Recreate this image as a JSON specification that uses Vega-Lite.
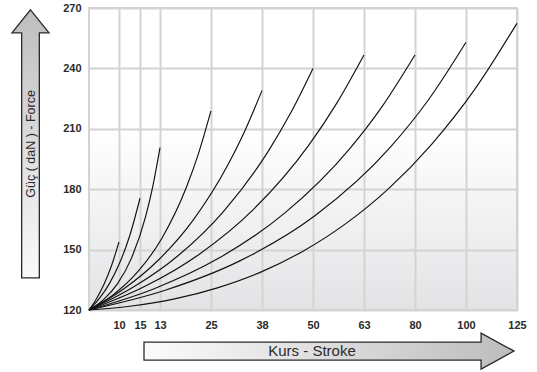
{
  "$schema": "https://vega.github.io/schema/vega-lite/v6.json",
  "width": 428,
  "height": 302,
  "autosize": "none",
  "padding": {"left": 89, "top": 8, "right": 20, "bottom": 62},
  "background": "white",
  "config": {
    "view": {"stroke": "#d3d3d3", "strokeWidth": 2},
    "font": "Liberation Sans"
  },
  "view": {
    "stroke": "#d3d3d3",
    "strokeWidth": 2,
    "fill": {
      "gradient": "linear",
      "x1": 0, "y1": 0, "x2": 0, "y2": 1,
      "stops": [
        {"offset": 0, "color": "#ffffff"},
        {"offset": 0.4, "color": "#ffffff"},
        {"offset": 1, "color": "#e2e3e5"}
      ]
    }
  },
  "datasets": {
    "curves": [
      {"curve": "10", "s": 0, "f": 120}, {"curve": "10", "s": 7.5, "f": 125.6}, {"curve": "10", "s": 15, "f": 132.8}, {"curve": "10", "s": 22.5, "f": 142.0}, {"curve": "10", "s": 30, "f": 153.8},
      {"curve": "15", "s": 0, "f": 120}, {"curve": "15", "s": 10.2, "f": 125.6}, {"curve": "15", "s": 20.4, "f": 133.1}, {"curve": "15", "s": 30.6, "f": 143.3}, {"curve": "15", "s": 40.8, "f": 157.0}, {"curve": "15", "s": 51, "f": 175.5},
      {"curve": "13", "s": 0, "f": 120}, {"curve": "13", "s": 14.2, "f": 125.0}, {"curve": "13", "s": 28.4, "f": 133.0}, {"curve": "13", "s": 42.6, "f": 145.9}, {"curve": "13", "s": 56.8, "f": 166.8}, {"curve": "13", "s": 63.9, "f": 181.7}, {"curve": "13", "s": 71, "f": 200.6},
      {"curve": "25", "s": 0, "f": 120}, {"curve": "25", "s": 24.4, "f": 127.6}, {"curve": "25", "s": 48.8, "f": 139.0}, {"curve": "25", "s": 73.2, "f": 155.9}, {"curve": "25", "s": 97.6, "f": 181.2}, {"curve": "25", "s": 109.8, "f": 198.2}, {"curve": "25", "s": 122, "f": 218.9},
      {"curve": "38", "s": 0, "f": 120}, {"curve": "38", "s": 34.6, "f": 130.4}, {"curve": "38", "s": 69.2, "f": 144.7}, {"curve": "38", "s": 103.8, "f": 164.4}, {"curve": "38", "s": 138.4, "f": 191.6}, {"curve": "38", "s": 155.7, "f": 208.8}, {"curve": "38", "s": 173, "f": 229.0},
      {"curve": "50", "s": 0, "f": 120}, {"curve": "50", "s": 44.8, "f": 131.5}, {"curve": "50", "s": 89.6, "f": 147.2}, {"curve": "50", "s": 134.4, "f": 168.9}, {"curve": "50", "s": 179.2, "f": 198.8}, {"curve": "50", "s": 201.6, "f": 217.8}, {"curve": "50", "s": 224, "f": 240.0},
      {"curve": "63", "s": 0, "f": 120}, {"curve": "63", "s": 55, "f": 131.5}, {"curve": "63", "s": 110, "f": 147.6}, {"curve": "63", "s": 165, "f": 170.2}, {"curve": "63", "s": 220, "f": 202.0}, {"curve": "63", "s": 247.5, "f": 222.5}, {"curve": "63", "s": 275, "f": 246.7},
      {"curve": "80", "s": 0, "f": 120}, {"curve": "80", "s": 65.2, "f": 130.6}, {"curve": "80", "s": 130.4, "f": 145.9}, {"curve": "80", "s": 195.6, "f": 168.1}, {"curve": "80", "s": 260.8, "f": 200.2}, {"curve": "80", "s": 293.4, "f": 221.3}, {"curve": "80", "s": 326, "f": 246.7},
      {"curve": "100", "s": 0, "f": 120}, {"curve": "100", "s": 75.4, "f": 129.7}, {"curve": "100", "s": 150.8, "f": 144.4}, {"curve": "100", "s": 226.2, "f": 166.9}, {"curve": "100", "s": 301.6, "f": 201.0}, {"curve": "100", "s": 339.3, "f": 224.3}, {"curve": "100", "s": 377, "f": 253.0},
      {"curve": "125", "s": 0, "f": 120}, {"curve": "125", "s": 42.8, "f": 122.0}, {"curve": "125", "s": 85.6, "f": 125.5}, {"curve": "125", "s": 128.4, "f": 131.0}, {"curve": "125", "s": 171.2, "f": 138.7}, {"curve": "125", "s": 214, "f": 149.2}, {"curve": "125", "s": 256.8, "f": 162.9}, {"curve": "125", "s": 299.6, "f": 180.3}, {"curve": "125", "s": 342.4, "f": 202.2}, {"curve": "125", "s": 385.2, "f": 229.2}, {"curve": "125", "s": 428, "f": 262.4}
    ],
    "yArrow": [{"label": "Güç ( daN ) - Force", "s": -58.5, "f": 202.5}],
    "xArrow": [{"label": "Kurs - Stroke", "s": 240, "f": 99.6}]
  },
  "encoding": {
    "x": {
      "field": "s",
      "type": "quantitative",
      "scale": {"domain": [0, 428], "nice": false, "zero": false},
      "axis": {
        "title": null,
        "values": [30, 51, 71, 122, 173, 224, 275, 326, 377, 428],
        "labelExpr": "['10','15','13','25','38','50','63','80','100','125'][indexof([30,51,71,122,173,224,275,326,377,428], datum.value)]",
        "domain": false,
        "ticks": false,
        "grid": true,
        "gridColor": "#d3d3d3",
        "gridWidth": 2,
        "gridOpacity": 1,
        "labelFlush": false,
        "labelOverlap": false,
        "labelBound": false,
        "labelPadding": 9,
        "labelFont": "Liberation Sans",
        "labelFontSize": 11,
        "labelFontWeight": "bold",
        "labelColor": "#2b2b2b"
      }
    },
    "y": {
      "field": "f",
      "type": "quantitative",
      "scale": {"domain": [120, 270], "nice": false, "zero": false},
      "axis": {
        "title": null,
        "values": [120, 150, 180, 210, 240, 270],
        "domain": false,
        "ticks": false,
        "grid": true,
        "gridColor": "#d3d3d3",
        "gridWidth": 2,
        "gridOpacity": 1,
        "labelFlush": false,
        "labelOverlap": false,
        "labelBound": false,
        "labelPadding": 8,
        "labelFont": "Liberation Sans",
        "labelFontSize": 11,
        "labelFontWeight": "bold",
        "labelColor": "#2b2b2b"
      }
    }
  },
  "layer": [
    {
      "data": {"name": "curves"},
      "mark": {"type": "line", "interpolate": "monotone", "color": "#111111", "strokeWidth": 1.15},
      "encoding": {"detail": {"field": "curve"}}
    },
    {
      "data": {"name": "yArrow"},
      "mark": {
        "type": "point",
        "shape": "M0,-1 L0.138,-0.828 L0.066,-0.828 L0.066,1 L-0.066,1 L-0.066,-0.828 L-0.138,-0.828 Z",
        "size": 71824,
        "filled": true,
        "opacity": 1,
        "fillOpacity": 1,
        "fill": {
          "gradient": "linear",
          "x1": 0, "y1": 0, "x2": 0, "y2": 1,
          "stops": [
            {"offset": 0, "color": "#bdbdbd"},
            {"offset": 1, "color": "#fbfbfb"}
          ]
        },
        "stroke": "#2a2a2a",
        "strokeWidth": 1.3
      }
    },
    {
      "data": {"name": "xArrow"},
      "mark": {
        "type": "point",
        "shape": "M-1,-0.0486 L0.822,-0.0486 L0.822,-0.0973 L1,0 L0.822,0.0973 L0.822,0.0486 L-1,0.0486 Z",
        "size": 136900,
        "filled": true,
        "opacity": 1,
        "fillOpacity": 1,
        "fill": {
          "gradient": "linear",
          "x1": 0, "y1": 0, "x2": 1, "y2": 0,
          "stops": [
            {"offset": 0, "color": "#fbfbfb"},
            {"offset": 1, "color": "#bdbdbd"}
          ]
        },
        "stroke": "#2a2a2a",
        "strokeWidth": 1.3
      }
    },
    {
      "data": {"name": "yArrow"},
      "mark": {"type": "text", "angle": 270, "font": "Liberation Sans", "fontSize": 12.5, "color": "#2b2b2b", "align": "center", "baseline": "middle", "dy": 0.5},
      "encoding": {"text": {"field": "label"}}
    },
    {
      "data": {"name": "xArrow"},
      "mark": {"type": "text", "font": "Liberation Sans", "fontSize": 15, "color": "#2b2b2b", "align": "center", "baseline": "middle", "dx": -17},
      "encoding": {"text": {"field": "label"}}
    }
  ]
}
